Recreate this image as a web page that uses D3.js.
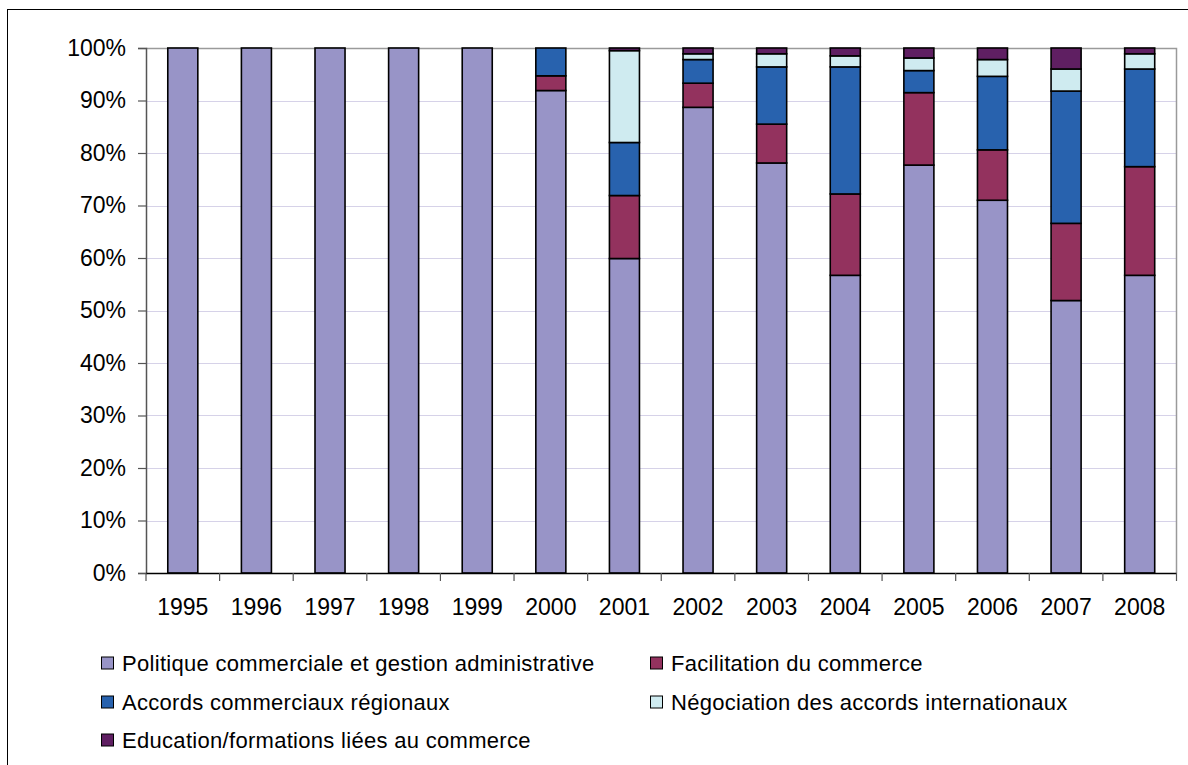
<!DOCTYPE html>
<html><head><meta charset="utf-8">
<script src="https://cdn.jsdelivr.net/npm/d3@7"></script>
<style>body{margin:0;background:#fff}svg{display:block}</style>
</head><body><svg id="c" width="1188" height="765"></svg>
<script>
const years = ["1995","1996","1997","1998","1999","2000","2001","2002","2003","2004","2005","2006","2007","2008"];
const seriesNames = ["Politique commerciale et gestion administrative","Facilitation du commerce","Accords commerciaux régionaux","Négociation des accords internationaux","Education/formations liées au commerce"];
const politique   = [100,100,100,100,100,91.9,59.9,88.7,78.1,56.7,77.7,71.0,51.9,56.7];
const facilitation= [0,0,0,0,0,2.8,12.0,4.6,7.4,15.5,13.8,9.6,14.7,20.7];
const accords     = [0,0,0,0,0,5.3,10.1,4.5,10.9,24.2,4.2,14.0,25.2,18.6];
const negociation = [0,0,0,0,0,0,17.5,1.1,2.5,2.1,2.4,3.2,4.2,2.9];
const education   = [0,0,0,0,0,0,0.5,1.1,1.1,1.5,1.9,2.2,4.0,1.1];
const yTicks = [0,10,20,30,40,50,60,70,80,90,100];
const colors = ["#9894c7","#93325e","#2862ae","#cfebf0","#5f1f62"];

const svg = d3.select("#c");
const font = "'Liberation Sans', Arial, sans-serif";
svg.append("rect").attr("x",7.5).attr("y",9.5).attr("width",1200).attr("height",800)
  .attr("fill","#fff").attr("stroke","#000").attr("stroke-width",1);

const L=146, R=1176.5, T=48, B=573;
const x = d3.scaleBand().domain(years).range([L,R]).paddingInner(0.592).paddingOuter(0.296);
const xb = d3.scaleBand().domain(years).range([L,R]);
const y = d3.scaleLinear().domain([0,100]).range([B,T]);

// grid
svg.append("g").selectAll("line").data(yTicks.filter(d=>d>0&&d<100)).join("line")
  .attr("x1",L).attr("x2",R).attr("y1",d=>Math.round(y(d))+0.5).attr("y2",d=>Math.round(y(d))+0.5)
  .attr("stroke","#d6d2e8").attr("stroke-width",1);
// plot border top/right
svg.append("path").attr("d",`M${L},${T+0.5}H${R}V${B}`).attr("fill","none").attr("stroke","#9a9a9a").attr("stroke-width",1.5);

const data = years.map((yr,i)=>({year:yr, v:[politique[i],facilitation[i],accords[i],negociation[i],education[i]]}));
const stackData = data.map(d=>{let acc=0; return d.v.map((val,k)=>{const s={year:d.year,k,y0:acc,y1:acc+val}; acc+=val; return s;});}).flat().filter(s=>s.y1-s.y0>0);

svg.append("g").selectAll("rect").data(stackData).join("rect")
  .attr("x",d=>x(d.year)).attr("width",x.bandwidth())
  .attr("y",d=>y(d.y1)).attr("height",d=>y(d.y0)-y(d.y1))
  .attr("fill",d=>colors[d.k]).attr("stroke","#000").attr("stroke-width",1.6);

// y axis
const ya = svg.append("g").attr("transform",`translate(${L},0)`)
  .call(d3.axisLeft(y).tickValues(yTicks).tickFormat(d=>d+"%").tickSize(8).tickPadding(12));
ya.select(".domain").attr("stroke","#555").attr("stroke-width",1.5);
ya.selectAll(".tick line").attr("stroke","#555").attr("stroke-width",1.2);
ya.selectAll("text").attr("font-family",font).attr("font-size",23).attr("fill","#000");

// x axis
const xa = svg.append("g").attr("transform",`translate(0,${B})`)
  .call(d3.axisBottom(xb).tickSize(0).tickPadding(26));
xa.select(".domain").attr("d",`M${L},0.5H${R}`).attr("stroke","#000").attr("stroke-width",1.5);
xa.selectAll("text").attr("font-family",font).attr("font-size",23).attr("fill","#000");
svg.append("g").selectAll("line").data(d3.range(years.length+1)).join("line")
  .attr("x1",i=>L+i*xb.step()).attr("x2",i=>L+i*xb.step()).attr("y1",B).attr("y2",B+8)
  .attr("stroke","#555").attr("stroke-width",1.2);

// legend
const legPos = [[101,663],[650,663],[101,702],[650,702],[101,740]];
const lg = svg.append("g").selectAll("g").data(seriesNames).join("g")
  .attr("transform",(d,i)=>`translate(${legPos[i][0]},${legPos[i][1]})`);
lg.append("rect").attr("x",0.5).attr("y",-6).attr("width",12).attr("height",12)
  .attr("fill",(d,i)=>colors[i]).attr("stroke","#000").attr("stroke-width",1);
lg.append("text").attr("x",21).attr("y",8).text(d=>d)
  .attr("font-family",font).attr("font-size",22).attr("letter-spacing",0.3).attr("fill","#000");
</script></body></html>
